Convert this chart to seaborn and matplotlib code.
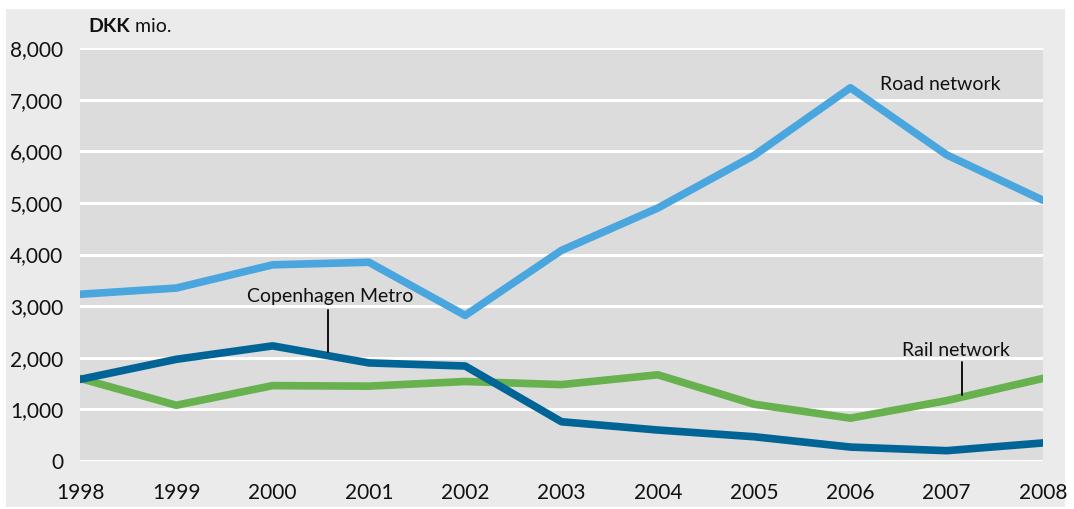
import pandas as pd
import matplotlib
matplotlib.use("Agg")
from matplotlib import pyplot as plt
from matplotlib.patches import Rectangle
from matplotlib.ticker import FuncFormatter
import seaborn as sns

# data (DKK mio.)
years = [1998, 1999, 2000, 2001, 2002, 2003, 2004, 2005, 2006, 2007, 2008]
road = [3230, 3350, 3800, 3850, 2820, 4080, 4900, 5920, 7230, 5930, 5050]
metro = [1580, 1970, 2230, 1900, 1840, 760, 600, 470, 270, 200, 350]
rail = [1600, 1080, 1460, 1450, 1540, 1480, 1670, 1100, 830, 1170, 1600]

df = pd.DataFrame({'year': years, 'Road network': road,
                   'Copenhagen Metro': metro, 'Rail network': rail})

sns.set_style('white')
plt.rcParams['font.family'] = ['Lato', 'DejaVu Sans']

fig = plt.figure(figsize=(10.74, 5.09), dpi=100)
fig.patch.set_facecolor('white')
fig.patches.append(Rectangle((6 / 1074, 2 / 509), 1059 / 1074, 498 / 509,
                             transform=fig.transFigure, facecolor='#ebebeb',
                             edgecolor='none', zorder=-10))
ax = fig.add_axes([80 / 1074, 48 / 509, 963 / 1074, 413 / 509])
ax.set_facecolor('#dcdcdc')

# gridlines
for v in range(0, 8001, 1000):
    ax.axhline(v, color='white', lw=2.2, zorder=1)

sns.lineplot(data=df, x='year', y='Road network', ax=ax, color='#4aa6de', lw=5.5, zorder=3)
sns.lineplot(data=df, x='year', y='Rail network', ax=ax, color='#67b14f', lw=5.5, zorder=3)
sns.lineplot(data=df, x='year', y='Copenhagen Metro', ax=ax, color='#006496', lw=5.5, zorder=4)

ax.set_xlim(1998, 2008)
ax.set_ylim(0, 8000)
ax.set_xticks(years)
ax.set_yticks(range(0, 8001, 1000))
ax.yaxis.set_major_formatter(FuncFormatter(lambda v, p: f'{int(v):,}'))
ax.tick_params(axis='both', length=0, labelsize=15, colors='#111111')
ax.tick_params(axis='x', pad=16)
ax.tick_params(axis='y', pad=12)
ax.set_xlabel('')
ax.set_ylabel('')
for s in ax.spines.values():
    s.set_visible(False)

# labels
ax.text(2006.93, 7300, 'Road network', fontsize=14, ha='center', va='center', color='#111111')
ax.text(2000.6, 3180, 'Copenhagen Metro', fontsize=14, ha='center', va='center', color='#111111')
ax.plot([2000.58, 2000.58], [2920, 2110], color='black', lw=1.3, zorder=5)
ax.text(2007.1, 2140, 'Rail network', fontsize=14, ha='center', va='center', color='#111111')
ax.plot([2007.16, 2007.16], [1920, 1280], color='black', lw=1.3, zorder=5)

t1 = fig.text(88 / 1074, 1 - 27 / 509, 'DKK', fontsize=14, fontweight='bold',
              va='center', color='#111111')
ax.annotate(' mio.', xy=(1, 0.5), xycoords=t1, va='center', ha='left',
            fontsize=14, color='#111111')

fig.savefig('out.png', dpi=100, facecolor=fig.get_facecolor())
